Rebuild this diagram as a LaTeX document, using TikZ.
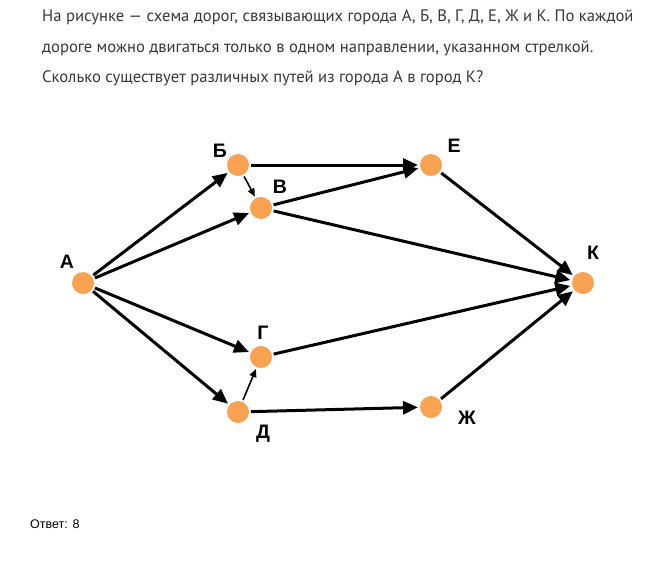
\documentclass[tikz,border=0pt]{standalone}
\usepackage{fontspec}
\setmainfont{Liberation Sans}
\newfontfamily\ptsans{PT Sans}
\usepackage{tikz}
\usetikzlibrary{arrows.meta}
\usetikzlibrary{positioning}
\definecolor{cityorange}{RGB}{249,163,82}
\definecolor{textgrey}{RGB}{55,55,55}

\begin{document}
\begin{tikzpicture}[x=1pt,y=-1pt,
    city/.style={circle,fill=cityorange,minimum size=22pt,inner sep=0pt,outer sep=2pt},
    lbl/.style={font=\fontsize{19.5}{19.5}\selectfont\bfseries},
    road/.style={line width=3pt,-{Triangle[length=15pt,width=13pt]}},
    shortroad/.style={line width=1.6pt,-{Triangle[length=8pt,width=7pt]}},
    task/.style={anchor=base west,inner sep=0pt,text=textgrey,font=\ptsans\fontsize{16.6}{16.6}\selectfont}]
     \useasboundingbox (0,0) rectangle (662,571);
     % condition
     \node[task] (t1) at (42,21) {На рисунке — схема дорог, связывающих города А, Б, В, Г, Д, Е, Ж и К. По каждой};
     \node[task] (t2) at (42,52) {дороге можно двигаться только в одном направлении, указанном стрелкой.};
     \node[task] (t3) at (42,82) {Сколько существует различных путей из города А в город К?};
     % cities
     \node[city] (A) at (83,283) {};
     \node[city] (B) at (238,165) {};
     \node[city] (V) at (261,208) {};
     \node[city] (G) at (261,357) {};
     \node[city] (D) at (238,412) {};
     \node[city] (E) at (431,165) {};
     \node[city] (K) at (583,283) {};
     \node[city] (Zh) at (431,407) {};
     \node[lbl] (lA) at (67,262) {А};
     \node[lbl] (lB) at (220,151) {Б};
     \node[lbl] (lV) at (280,187) {В};
     \node[lbl] (lG) at (263,333) {Г};
     \node[lbl] (lD) at (263,434) {Д};
     \node[lbl] (lE) at (454,146) {Е};
     \node[lbl] (lK) at (593,253) {К};
     \node[lbl] (lZh) at (467,418) {Ж};
     % roads
     \draw[road] (A) -- (B);
     \draw[road] (A) -- (V);
     \draw[road] (A) -- (G);
     \draw[road] (A) -- (D);
     \draw[road] (B) -- (E);
     \draw[road] (V) -- (E);
     \draw[road] (V) -- (K);
     \draw[road] (E) -- (K);
     \draw[road] (G) -- (K);
     \draw[road] (D) -- (Zh);
     \draw[road] (Zh) -- (K);
     \draw[shortroad] (B) -- (V);
     \draw[shortroad] (D) -- (G);
     % answer
     \node[anchor=base west,inner sep=0pt,font=\fontsize{12.5}{12.5}\selectfont] (ans) at (30,528) {Ответ: 8};
\end{tikzpicture}
\end{document}
